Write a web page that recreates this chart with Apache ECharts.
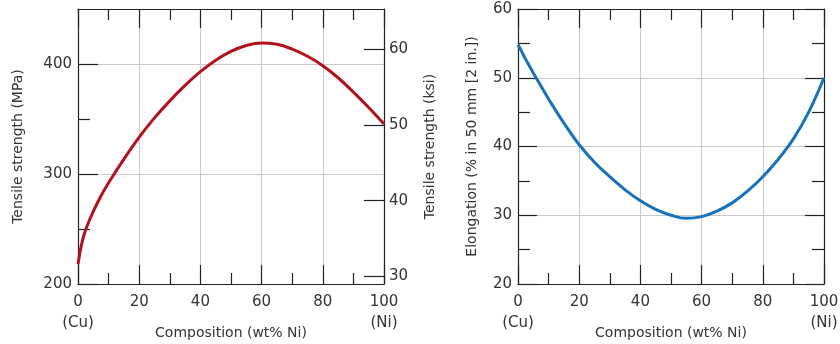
<!DOCTYPE html>
<html>
<head>
<meta charset="utf-8">
<script src="https://cdn.jsdelivr.net/npm/echarts@6/dist/echarts.min.js"></script>
<style>html,body{margin:0;padding:0;background:#fff}#c{width:840px;height:344px}</style>
</head>
<body>
<div id="c"></div>
<script>
// ---- data ----
const composition = [0,1,2,3,5,7.5,10,15,20,25,30,35,40,45,50,55,60,65,70,75,80,85,90,95,100];
const tensileMPa  = [218,234,245,253,266,280,292,313.5,333.5,351,366.5,380.5,393,403.5,411.5,416.8,419.2,418.0,413.6,407,398.5,387.5,374.5,360.5,345.5];
const elongation  = [54.8,54.0,53.1,52.3,50.7,48.8,46.9,43.4,40.25,37.7,35.6,33.7,32.1,30.85,30.0,29.55,29.8,30.6,31.8,33.5,35.6,38.1,41.1,45.0,50.0];
const mpaMajorTicks = [200,300,400];
const mpaMinorTicks = [250,350];
const ksiTicks = [30,40,50,60];
const MPA_PER_KSI = 6.894757;

const FONT = 'DejaVu Sans';
const TXT = '#333';
const AX = '#222';
const GRID = '#cacaca';

function xAxes(gridIndex) {
  const base = {
    type: 'value', gridIndex, min: 0, max: 100, interval: 20,
    axisLine: {show: true, onZero: false, lineStyle: {color: AX, width: 1.2}},
    axisTick: {show: true, inside: true, length: 19, lineStyle: {color: AX, width: 1.2}},
    minorTick: {show: true, splitNumber: 2, length: 11, lineStyle: {color: AX, width: 1.2}},
  };
  return [
    Object.assign({}, base, {
      position: 'bottom',
      name: 'Composition (wt% Ni)', nameLocation: 'middle', nameGap: 42, nameMoveOverlap: false,
      nameTextStyle: {fontFamily: FONT, fontSize: 14, color: TXT},
      axisLabel: {
        margin: 8, fontFamily: FONT, fontSize: 15, color: TXT, lineHeight: 21,
        formatter: v => v === 0 ? '0\n(Cu)' : (v === 100 ? '100\n(Ni)' : String(v))
      },
      splitLine: {show: true, lineStyle: {color: GRID, width: 1}}
    }),
    Object.assign({}, base, {
      position: 'top', axisLabel: {show: false}, splitLine: {show: false}
    })
  ];
}

const option = {
  animation: false,
  backgroundColor: '#fff',
  grid: [
    {left: 78, top: 9, width: 306, height: 275, outerBoundsMode: 'none', containLabel: false},
    {left: 518, top: 9, width: 306, height: 275, outerBoundsMode: 'none', containLabel: false}
  ],
  xAxis: [...xAxes(0), ...xAxes(1)],
  yAxis: [
    { // 0: MPa left major
      type: 'value', gridIndex: 0, position: 'left', min: 200, max: 450, interval: 100,
      name: 'Tensile strength (MPa)', nameLocation: 'middle', nameGap: 53, nameMoveOverlap: false,
      nameTextStyle: {fontFamily: FONT, fontSize: 14, color: TXT},
      axisLine: {show: true, onZero: false, lineStyle: {color: AX, width: 1.2}},
      axisTick: {show: true, inside: true, length: 20, customValues: mpaMajorTicks, lineStyle: {color: AX, width: 1.2}},
      axisLabel: {margin: 6, fontFamily: FONT, fontSize: 15, color: TXT, customValues: mpaMajorTicks},
      splitLine: {show: true, lineStyle: {color: GRID, width: 1}}
    },
    { // 1: MPa left minor
      type: 'value', gridIndex: 0, position: 'left', min: 200, max: 450,
      axisLine: {show: false},
      axisTick: {show: true, inside: true, length: 12, customValues: mpaMinorTicks, lineStyle: {color: AX, width: 1.2}},
      axisLabel: {show: false},
      splitLine: {show: false}
    },
    { // 2: ksi right
      type: 'value', gridIndex: 0, position: 'right',
      min: 200 / MPA_PER_KSI, max: 450 / MPA_PER_KSI,
      name: 'Tensile strength (ksi)', nameLocation: 'middle', nameGap: 39, nameMoveOverlap: false,
      nameTextStyle: {fontFamily: FONT, fontSize: 14, color: TXT},
      axisLine: {show: true, onZero: false, lineStyle: {color: AX, width: 1.2}},
      axisTick: {show: true, inside: true, length: 20, customValues: ksiTicks, lineStyle: {color: AX, width: 1.2}},
      axisLabel: {margin: 5, fontFamily: FONT, fontSize: 15, color: TXT, customValues: ksiTicks},
      splitLine: {show: false}
    },
    { // 3: elongation left
      type: 'value', gridIndex: 1, position: 'left', min: 20, max: 60, interval: 10,
      name: 'Elongation (% in 50 mm [2 in.])', nameLocation: 'middle', nameGap: 39, nameMoveOverlap: false,
      nameTextStyle: {fontFamily: FONT, fontSize: 14, color: TXT},
      axisLine: {show: true, onZero: false, lineStyle: {color: AX, width: 1.2}},
      axisTick: {show: true, inside: true, length: 19, lineStyle: {color: AX, width: 1.2}},
      minorTick: {show: true, splitNumber: 2, length: 12, lineStyle: {color: AX, width: 1.2}},
      axisLabel: {margin: 6, fontFamily: FONT, fontSize: 15, color: TXT},
      splitLine: {show: true, lineStyle: {color: GRID, width: 1}}
    },
    { // 4: elongation right mirror
      type: 'value', gridIndex: 1, position: 'right', min: 20, max: 60, interval: 10,
      axisLine: {show: true, onZero: false, lineStyle: {color: AX, width: 1.2}},
      axisTick: {show: true, inside: true, length: 19, lineStyle: {color: AX, width: 1.2}},
      minorTick: {show: true, splitNumber: 2, length: 12, lineStyle: {color: AX, width: 1.2}},
      axisLabel: {show: false},
      splitLine: {show: false}
    }
  ],
  series: [
    {
      type: 'line', xAxisIndex: 0, yAxisIndex: 0, smooth: 0.4, showSymbol: false,
      data: composition.map((c, i) => [c, tensileMPa[i]]),
      lineStyle: {color: '#b3121d', width: 3}, z: 5
    },
    {
      type: 'line', xAxisIndex: 2, yAxisIndex: 3, smooth: 0.4, showSymbol: false,
      data: composition.map((c, i) => [c, elongation[i]]),
      lineStyle: {color: '#1672bb', width: 3}, z: 5
    }
  ]
};

const chart = echarts.init(document.getElementById('c'), null, {renderer: 'canvas'});
chart.setOption(option);
</script>
</body>
</html>
